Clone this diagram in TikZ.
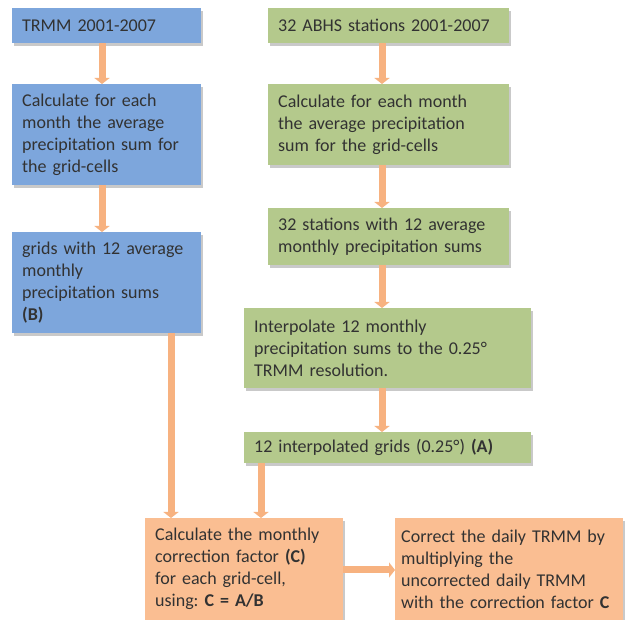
\documentclass[tikz,border=0pt]{standalone}
\usepackage{fontspec}
\setmainfont{Carlito}
\usetikzlibrary{arrows.meta,shadows}
\definecolor{bluebox}{RGB}{125,166,220}
\definecolor{greenbox}{RGB}{180,201,140}
\definecolor{orangebox}{RGB}{250,190,146}
\definecolor{arrowc}{RGB}{247,178,128}
\definecolor{txt}{RGB}{50,50,50}
\tikzset{
  box/.style={anchor=north west, inner xsep=10pt, inner ysep=0pt, align=left,
    font=\fontsize{18}{22}\selectfont\frenchspacing, text=txt,
    drop shadow={shadow xshift=2pt, shadow yshift=-2.5pt, opacity=0.35, fill=black!60}},
  bbox/.style={box, fill=bluebox},
  gbox/.style={box, fill=greenbox},
  obox/.style={box, fill=orangebox},
  flow/.style={draw=arrowc, line width=7pt, -{Triangle[width=15pt,length=6pt]}},
}
\begin{document}
\begin{tikzpicture}[x=1pt,y=-1pt]
\useasboundingbox (0,0) rectangle (625,620);
\fill[white] (0,0) rectangle (625,620);
% left (blue) column
\node[bbox, minimum width=189pt, minimum height=35pt, text width=169pt] (b1) at (12,8) {TRMM 2001-2007};
\node[bbox, minimum width=189pt, minimum height=101pt, text width=169pt] (b2) at (12,84) {Calculate for each\\month the average\\precipitation sum for\\the grid-cells};
\node[bbox, minimum width=189pt, minimum height=101pt, text width=169pt] (b3) at (12,232) {grids with 12 average\\monthly\\precipitation sums\\\textbf{(B)}};
% right (green) column
\node[gbox, minimum width=241pt, minimum height=35pt, text width=221pt] (g1) at (268,8) {32 ABHS stations 2001-2007};
\node[gbox, minimum width=241pt, minimum height=81pt, text width=221pt] (g2) at (268,84) {Calculate for each month\\the average precipitation\\sum for the grid-cells};
\node[gbox, minimum width=241pt, minimum height=57pt, text width=221pt] (g3) at (268,208) {32 stations with 12 average\\monthly precipitation sums};
\node[gbox, minimum width=287pt, minimum height=80pt, text width=267pt] (g4) at (244,308) {Interpolate 12 monthly\\precipitation sums to the 0.25°\\TRMM resolution.};
\node[gbox, minimum width=287pt, minimum height=31pt, text width=267pt] (g5) at (244,432) {12 interpolated grids (0.25°) \textbf{(A)}};
% bottom (orange)
\node[obox, minimum width=198pt, minimum height=102pt, text width=178pt] (o1) at (145,518) {Calculate the monthly\\correction factor \textbf{(C)}\\for each grid-cell,\\using: \textbf{C = A/B}};
\node[obox, inner xsep=6pt, minimum width=228pt, minimum height=102pt, text width=216pt] (o2) at (395,518) {Correct the daily TRMM by\\multiplying the\\uncorrected daily TRMM\\with the correction factor \textbf{C}};
% arrows
\draw[flow] (b1.south -| 102,0) -- (b2.north -| 102,0);
\draw[flow] (b2.south -| 102,0) -- (b3.north -| 102,0);
\draw[flow] (b3.south -| 171,0) -- (o1.north -| 171,0);
\draw[flow] (g1.south -| 382,0) -- (g2.north -| 382,0);
\draw[flow] (g2.south -| 382,0) -- (g3.north -| 382,0);
\draw[flow] (g3.south -| 382,0) -- (g4.north -| 382,0);
\draw[flow] (g4.south -| 382,0) -- (g5.north -| 382,0);
\draw[flow] (g5.south -| 261,0) -- (o1.north -| 261,0);
\draw[flow] (o1.east |- 0,570) -- (o2.west |- 0,570);
\end{tikzpicture}
\end{document}
